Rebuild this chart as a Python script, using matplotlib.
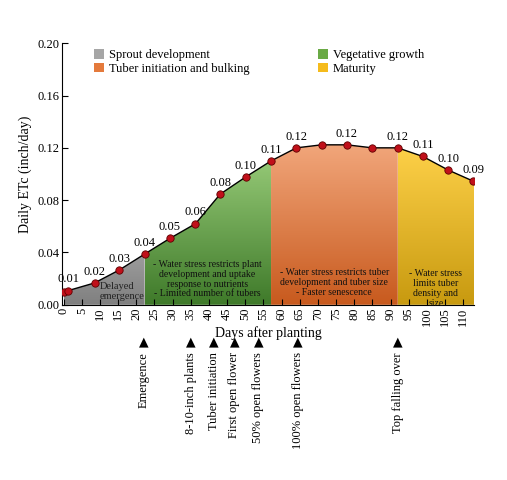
import matplotlib
matplotlib.use("Agg")
import matplotlib.pyplot as plt
import numpy as np
from matplotlib.patches import Polygon, Patch
from matplotlib.colors import LinearSegmentedColormap

plt.rcParams['font.family'] = ['Liberation Serif', 'DejaVu Serif']

days = [0.2, 1.3, 8.5, 15.3, 22.3, 29.2, 36.3, 43.1, 50.1, 57.1, 64.1, 71, 78, 85, 92, 98.9, 105.9, 112.8]
et = [0.0101, 0.0109, 0.0167, 0.0266, 0.0388, 0.0507, 0.062, 0.0846, 0.0977, 0.110, 0.120, 0.1223, 0.1223, 0.120, 0.120, 0.1134, 0.103, 0.0945]
labels = ['', '0.01', '0.02', '0.03', '0.04', '0.05', '0.06', '0.08', '0.10', '0.11', '0.12', '', '0.12', '', '0.12', '0.11', '0.10', '0.09']
stages = [(0, 22.3, '#dcdcdc', '#808080'), (22.3, 57.1, '#9fd27f', '#3f7a2a'),
          (57.1, 92, '#f2a77c', '#c85a1e'), (92, 113, '#ffd24a', '#c89a10')]
stage_names = ['Sprout development', 'Vegetative growth', 'Tuber initiation and bulking', 'Maturity']
stage_colors = ['#a6a6a6', '#6aaa45', '#e47a3c', '#f5bb1c']
events = [22, 35, 41.4, 47, 53.6, 64.5, 92]
event_names = ['Emergence', '8-10-inch plants', 'Tuber initiation', 'First open flower',
               '50% open flowers', '100% open flowers', 'Top falling over']

fig = plt.figure(figsize=(5.07, 4.8), dpi=100)
ax = fig.add_axes([0.122, 0.365, 0.813, 0.545])
ax.set_xlim(-0.5, 113)
ax.set_ylim(0, 0.20)

xs = np.array(days); ys = np.array(et)
xx = np.concatenate([[-0.5], xs, [113]])
yy = np.concatenate([[ys[0]], ys, [ys[-1]]])
for a, b, top, bot in stages:
    cmap = LinearSegmentedColormap.from_list('c', [bot, top])
    im = ax.imshow(np.linspace(0, 1, 100).reshape(-1, 1), cmap=cmap, aspect='auto',
                   extent=[a, b, 0, 0.125], origin='lower', zorder=1)
    m = (xx >= a) & (xx <= b)
    px = np.concatenate([[a], xx[m], [b]])
    py = np.concatenate([[np.interp(a, xx, yy)], yy[m], [np.interp(b, xx, yy)]])
    poly = Polygon(list(zip(np.concatenate([px, [b, a]]), np.concatenate([py, [0, 0]]))),
                   closed=True, transform=ax.transData, facecolor='none', edgecolor='none')
    ax.add_patch(poly)
    im.set_clip_path(poly)

ax.plot(days, et, color='black', lw=1, zorder=3)
ax.scatter(days, et, s=28, color='#c0101a', edgecolor='#600000', lw=0.6, zorder=4)
for d, v, l in zip(days, et, labels):
    if l:
        ax.text(d, v + 0.004, l, ha='center', va='bottom', fontsize=9, zorder=5)

ax.text(9.8, 0.0175, 'Delayed\nemergence', ha='left', va='top', fontsize=7.5, linespacing=1.1, color='#222', zorder=5)
ax.text(39.5, 0.034, '- Water stress restricts plant\ndevelopment and uptake\nresponse to nutrients\n- Limited number of tubers',
        ha='center', va='top', fontsize=7, linespacing=1.1, color='#111')
ax.text(74.5, 0.028, '- Water stress restricts tuber\ndevelopment and tuber size\n- Faster senescence',
        ha='center', va='top', fontsize=7, linespacing=1.1, color='#111')
ax.text(102.5, 0.027, '- Water stress\nlimits tuber\ndensity and\nsize', ha='center', va='top',
        fontsize=7, linespacing=1.1, color='#111')

ax.set_xticks(range(0, 111, 5))
ax.set_xticklabels([str(t) for t in range(0, 111, 5)], rotation=90, fontsize=9)
ax.set_yticks(np.arange(0, 0.201, 0.04))
ax.set_yticklabels([f'{t:.2f}' for t in np.arange(0, 0.201, 0.04)], fontsize=9)
ax.tick_params(direction='in', length=4, pad=2)
ax.set_xlabel('Days after planting', fontsize=10, labelpad=0)
ax.set_ylabel('Daily ETc (inch/day)', fontsize=10)
for s in ['top', 'right']:
    ax.spines[s].set_visible(False)

order = [0, 2, 1, 3]
handles = [Patch(facecolor=stage_colors[i]) for i in order]
ax.legend(handles, [stage_names[i] for i in order], loc='upper left', bbox_to_anchor=(0.05, 1.02), ncol=2,
          frameon=False, fontsize=9, handlelength=0.8, handleheight=0.8, columnspacing=5.5,
          labelspacing=0.1, handletextpad=0.4)

for d, n in zip(events, event_names):
    ax.annotate('\u25B2', xy=(d, 0), xycoords='data', xytext=(0, -27), textcoords='offset points',
                ha='center', va='center', fontsize=9, annotation_clip=False, family='DejaVu Sans')
    ax.annotate(n, xy=(d, 0), xycoords='data', xytext=(0, -34), textcoords='offset points',
                ha='center', va='top', rotation=90, fontsize=9, annotation_clip=False)

fig.savefig('out.png', dpi=100)
